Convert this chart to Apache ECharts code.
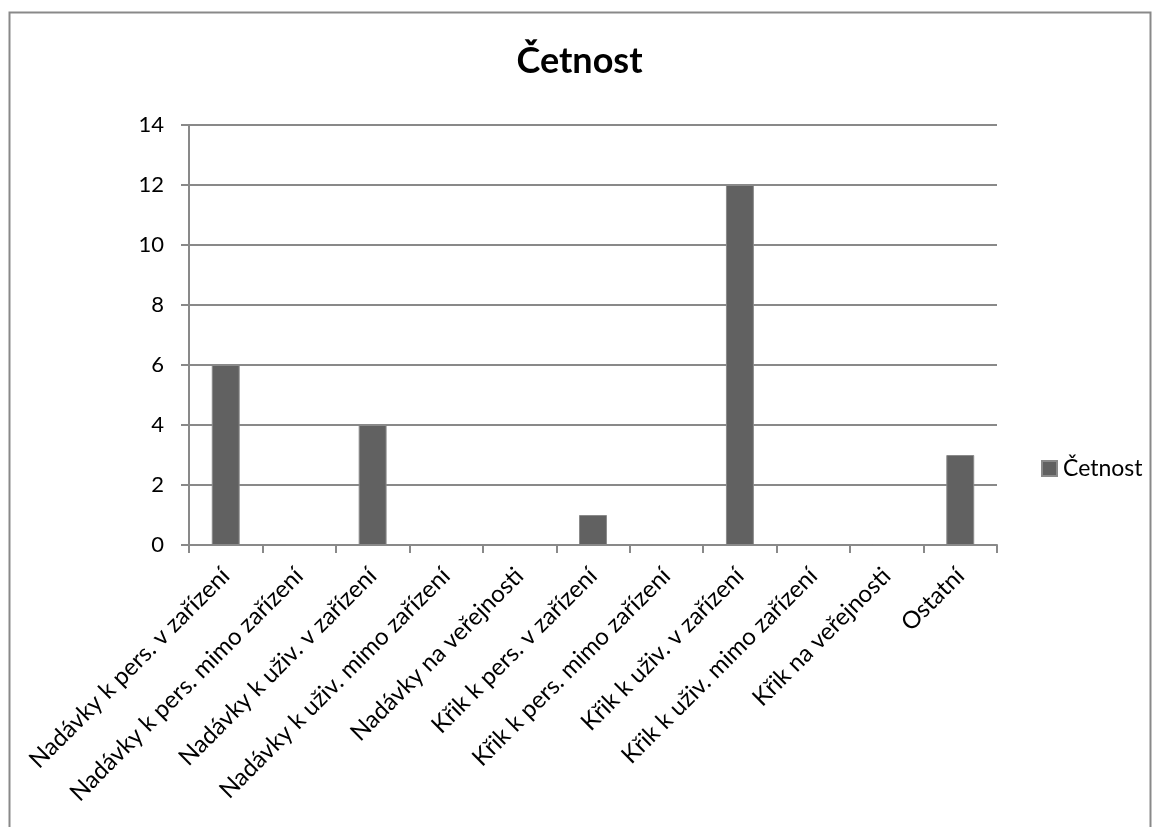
<!DOCTYPE html>
<html>
<head>
<meta charset="utf-8">
<script src="https://cdn.jsdelivr.net/npm/echarts@6/dist/echarts.min.js"></script>
<style>
  html, body { margin: 0; padding: 0; background: #fff; }
  #chart { width: 1159px; height: 827px; }
</style>
</head>
<body>
<div id="chart"></div>
<script>
// Kategorie projevů a jejich četnost
const categories = [
  'Nadávky k pers. v zařízení',
  'Nadávky k pers. mimo zařízení',
  'Nadávky k uživ. v zařízení',
  'Nadávky k uživ. mimo zařízení',
  'Nadávky na veřejnosti',
  'Křik k pers. v zařízení',
  'Křik k pers. mimo zařízení',
  'Křik k uživ. v zařízení',
  'Křik k uživ. mimo zařízení',
  'Křik na veřejnosti',
  'Ostatní'
];
const counts = [6, 0, 4, 0, 0, 1, 0, 12, 0, 0, 3];
const seriesName = 'Četnost';
const yTicks = { min: 0, max: 14, interval: 2 };

const font = 'Lato, "Open Sans", sans-serif';
const gray = '#898989';

const chart = echarts.init(document.getElementById('chart'), null, { renderer: 'canvas' });
chart.setOption({
  animation: false,
  backgroundColor: '#ffffff',
  title: {
    text: seriesName,
    left: 'center',
    top: 38,
    textStyle: { fontFamily: font, fontSize: 36, fontWeight: 'bold', color: '#000' }
  },
  legend: {
    data: [seriesName],
    left: 1036,
    top: 452,
    itemWidth: 15,
    itemHeight: 15,
    itemGap: 6,
    icon: 'rect',
    textStyle: { fontFamily: font, fontSize: 23, color: '#000', padding: [0, 0, 0, 1] }
  },
  graphic: [{
    type: 'rect',
    shape: { x: 9.5, y: 12.5, width: 1141, height: 900 },
    style: { fill: 'none', stroke: gray, lineWidth: 2 },
    silent: true
  }],
  grid: { left: 189, right: 162, top: 125, bottom: 282, containLabel: false },
  xAxis: {
    type: 'category',
    data: categories,
    boundaryGap: true,
    axisLine: { lineStyle: { color: gray, width: 2 } },
    axisTick: { show: true, length: 8, alignWithLabel: false, lineStyle: { color: gray, width: 2 } },
    axisLabel: {
      interval: 0,
      rotate: 45,
      margin: 27,
      fontFamily: font,
      fontSize: 24,
      color: '#000'
    }
  },
  yAxis: {
    type: 'value',
    min: yTicks.min,
    max: yTicks.max,
    interval: yTicks.interval,
    axisLine: { show: true, lineStyle: { color: gray, width: 2 } },
    axisTick: { show: true, length: 8, lineStyle: { color: gray, width: 2 } },
    axisLabel: { margin: 25, fontFamily: font, fontSize: 22, color: '#000' },
    splitLine: { show: true, lineStyle: { color: gray, width: 2 } }
  },
  series: [{
    name: seriesName,
    type: 'bar',
    data: counts,
    barWidth: '38%',
    itemStyle: { color: '#616161', borderColor: '#8a8a8a', borderWidth: 1 }
  }]
});
</script>
</body>
</html>
